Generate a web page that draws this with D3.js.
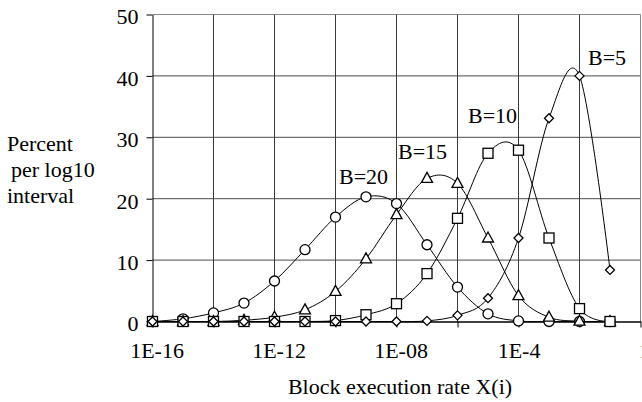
<!DOCTYPE html>
<html>
<head>
<meta charset="utf-8">
<script src="https://cdn.jsdelivr.net/npm/d3@7"></script>
<style>
  html, body { margin: 0; padding: 0; background: #fff; }
  svg { display: block; }
</style>
</head>
<body>
<div id="chart"></div>
<script>
// Block execution rates (x categories), one point per decade
const rates = [1e-16, 1e-15, 1e-14, 1e-13, 1e-12, 1e-11, 1e-10, 1e-9,
               1e-8, 1e-7, 1e-6, 1e-5, 1e-4, 1e-3, 1e-2, 1e-1];

// Percent per log10 interval
const b20 = [0, 0.44, 1.4, 3.0, 6.6, 11.7, 17.0, 20.3, 19.2, 12.5, 5.6, 1.25, 0.1, 0, 0, 0];
const b15 = [0, 0, 0, 0.2, 0.7, 1.9, 4.9, 10.2, 17.4, 23.3, 22.5, 13.6, 4.2, 0.7, 0.05, 0];
const b10 = [0, 0, 0, 0, 0, 0, 0.15, 1.1, 2.9, 7.8, 16.8, 27.4, 27.9, 13.6, 2.1, 0];
const b5  = [0, 0, 0, 0, 0, 0, 0, 0, 0, 0.1, 1.0, 3.8, 13.6, 33.1, 40.0, 8.4];

const seriesNames = ["B=20", "B=15", "B=10", "B=5"];
const seriesMarks = ["circle", "triangle", "square", "diamond"];

// axis ticks
const xGridVals = [1e-16, 1e-14, 1e-12, 1e-10, 1e-8, 1e-6, 1e-4, 1e-2, 1];
const xLabelVals = [1e-16, 1e-12, 1e-8, 1e-4, 1];
const xLabels = ["1E-16", "1E-12", "1E-08", "1E-4", "1"];
const yTicks = [0, 10, 20, 30, 40, 50];

const largura = 642, altura = 402;
const plot = { left: 152.5, right: 640.5, top: 14.5, bottom: 321.5 };
const fonte = "Liberation Serif";

const svg = d3.select("#chart").append("svg")
    .attr("width", largura)
    .attr("height", altura)
    .attr("font-family", fonte);

const x = d3.scaleLog().domain([1e-16, 1]).range([plot.left, plot.right]);
const y = d3.scaleLinear().domain([0, 50]).range([plot.bottom, plot.top]);

// horizontal grid
svg.append("g")
    .selectAll("line")
    .data(yTicks.filter(d => d > 0))
    .enter().append("line")
    .attr("x1", plot.left).attr("x2", plot.right)
    .attr("y1", d => y(d)).attr("y2", d => y(d))
    .attr("stroke", d => d === 50 ? "#8a8a8a" : "#4a4a4a")
    .attr("stroke-width", 1);

// vertical grid
svg.append("g")
    .selectAll("line")
    .data(xGridVals.slice(1))
    .enter().append("line")
    .attr("x1", d => x(d)).attr("x2", d => x(d))
    .attr("y1", plot.top).attr("y2", plot.bottom)
    .attr("stroke", d => d === 1 ? "#8a8a8a" : "#3a3a3a")
    .attr("stroke-width", 1);

// axes
const xAxis = svg.append("g")
    .attr("transform", `translate(0,${plot.bottom})`)
    .call(d3.axisBottom(x)
        .tickValues(xGridVals)
        .tickSize(6)
        .tickSizeOuter(0)
        .tickPadding(15)
        .tickFormat(d => {
            const i = xLabelVals.findIndex(v => Math.abs(Math.log10(v) - Math.log10(d)) < 1e-6);
            return i >= 0 ? xLabels[i] : "";
        }))
    .attr("font-family", fonte)
    .attr("font-size", 22);
xAxis.selectAll("text")
    .attr("dx", d => (Math.abs(Math.log10(d) + 4) < 1e-6 ? 0 : 4))
    .attr("font-family", fonte)
    .attr("fill", "#000");

const yAxis = svg.append("g")
    .attr("transform", `translate(${plot.left},0)`)
    .call(d3.axisLeft(y).tickValues(yTicks).tickSize(6).tickSizeOuter(0).tickPadding(8))
    .attr("font-family", fonte)
    .attr("font-size", 22);
yAxis.selectAll("text")
    .attr("dy", "0.43em")
    .attr("font-family", fonte)
    .attr("fill", "#000");

svg.selectAll(".domain, .tick line").attr("stroke", "#000");
xAxis.select(".domain").attr("stroke-width", 1.3);

// markers
function marker(sel, type) {
    if (type === "circle") {
        sel.append("circle").attr("r", 5);
    } else if (type === "triangle") {
        sel.append("path").attr("d", "M0,-6L5.5,4L-5.5,4Z");
    } else if (type === "square") {
        sel.append("rect").attr("x", -5).attr("y", -5).attr("width", 10).attr("height", 10);
    } else {
        sel.append("path").attr("d", "M0,-4.5L4.5,0L0,4.5L-4.5,0Z");
    }
}

const linha = d3.line()
    .x((d, i) => x(rates[i]))
    .y(d => y(d))
    .curve(d3.curveCatmullRom.alpha(0));

[b20, b15, b10, b5].forEach((vals, k) => {
    const g = svg.append("g");
    g.append("path")
        .attr("d", linha(vals))
        .attr("fill", "none")
        .attr("stroke", "#000")
        .attr("stroke-width", 1);
    g.selectAll("g.pt")
        .data(vals)
        .enter().append("g")
        .attr("class", "pt")
        .attr("transform", (d, i) => `translate(${x(rates[i])},${y(d)})`)
        .call(marker, seriesMarks[k])
        .selectAll("*")
        .attr("fill", "#fff")
        .attr("stroke", "#000")
        .attr("stroke-width", 1.3);
});

// series labels
const labelPos = [[339, 184], [398, 159], [468, 123], [588, 65]];
svg.append("g")
    .selectAll("text")
    .data(seriesNames)
    .enter().append("text")
    .attr("x", (d, i) => labelPos[i][0])
    .attr("y", (d, i) => labelPos[i][1])
    .attr("font-family", fonte)
    .attr("font-size", 22)
    .text(d => d);

// y title
const yTitle = svg.append("text").attr("font-family", fonte).attr("font-size", 22);
yTitle.append("tspan").attr("x", 7).attr("y", 151).text("Percent");
yTitle.append("tspan").attr("x", 11).attr("y", 177).text("per log10");
yTitle.append("tspan").attr("x", 7).attr("y", 203).text("interval");

// x title
svg.append("text")
    .attr("x", 400)
    .attr("y", 394)
    .attr("text-anchor", "middle")
    .attr("font-family", fonte)
    .attr("font-size", 22)
    .text("Block execution rate X(i)");
</script>
</body>
</html>
